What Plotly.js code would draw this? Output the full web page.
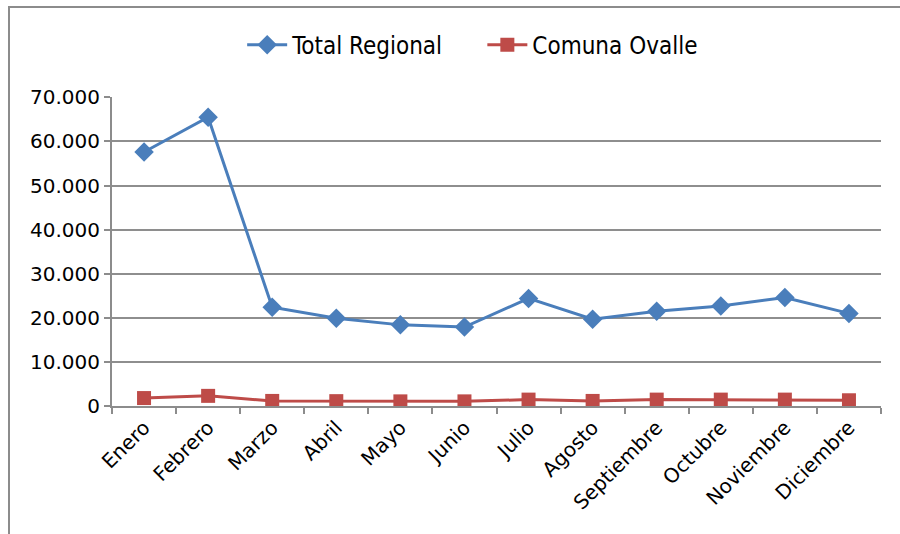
<!DOCTYPE html>
<html>
<head>
<meta charset="utf-8">
<script src="https://cdn.plot.ly/plotly-3.0.1.min.js"></script>
<style>
html,body{margin:0;padding:0;overflow:hidden;background:#fff;}
#wrap{position:relative;width:900px;height:534px;}
#chart{position:absolute;left:0;top:0;width:900px;height:534px;}
#frame{position:absolute;left:8px;top:6px;width:1000px;height:1000px;border-left:2px solid #8c8c8c;border-top:2px solid #8c8c8c;pointer-events:none;}
</style>
</head>
<body>
<div id="wrap"><div id="chart"></div><div id="frame"></div></div>
<script>
const months = ["Enero","Febrero","Marzo","Abril","Mayo","Junio","Julio","Agosto","Septiembre","Octubre","Noviembre","Diciembre"];
const totalRegional = [57600, 65500, 22400, 19900, 18400, 17900, 24400, 19700, 21500, 22700, 24600, 21000];
const comunaOvalle = [1800, 2300, 1150, 1100, 1050, 1050, 1450, 1150, 1450, 1450, 1450, 1300];
const yTicks = [0, 10000, 20000, 30000, 40000, 50000, 60000, 70000];
const seriesNames = ["Total Regional", "Comuna Ovalle"];

const pad = "\u00A0".repeat(5);
const traces = [
  {x: months, y: totalRegional, name: seriesNames[0] + pad, type: "scatter", mode: "lines+markers",
   line: {color: "#4A7EBB", width: 3}, marker: {symbol: "diamond", size: 15, color: "#4A7EBB"}},
  {x: months, y: comunaOvalle, name: seriesNames[1], type: "scatter", mode: "lines+markers",
   line: {color: "#BE4B48", width: 3}, marker: {symbol: "square", size: 14, color: "#BE4B48"}}
];

const layout = {
  width: 900, height: 534,
  margin: {l: 112, r: 19, t: 97, b: 128},
  paper_bgcolor: "rgba(0,0,0,0)", plot_bgcolor: "#fff",
  separators: ",.",
  font: {family: "Liberation Sans, Arial, sans-serif", color: "#000"},
  showlegend: true,
  legend: {orientation: "h", x: 0.469, xanchor: "center", y: 1.168, yanchor: "middle",
           font: {size: 24, family: "Liberation Sans Narrow, DejaVu Sans Condensed, sans-serif"},
           itemwidth: 40, bgcolor: "rgba(0,0,0,0)"},
  xaxis: {type: "category", range: [-0.5, 11.5], tickson: "boundaries", ticks: "outside", ticklen: 6,
          tickcolor: "#8c8c8c", tickwidth: 2, showline: true, linecolor: "#8c8c8c", linewidth: 2,
          showgrid: false, tickangle: -45, tickfont: {size: 20, family: "DejaVu Sans, sans-serif"}},
  yaxis: {range: [0, 70080], tickvals: yTicks, tickformat: ",d", ticks: "outside", ticklen: 6,
          tickcolor: "#8c8c8c", tickwidth: 2, showline: true, linecolor: "#8c8c8c", linewidth: 2,
          showgrid: true, gridcolor: "#8e8e8e", gridwidth: 2, zeroline: false,
          tickfont: {size: 20, family: "DejaVu Sans, sans-serif"}}
};
Plotly.newPlot("chart", traces, layout, {staticPlot: true});
</script>
</body>
</html>
